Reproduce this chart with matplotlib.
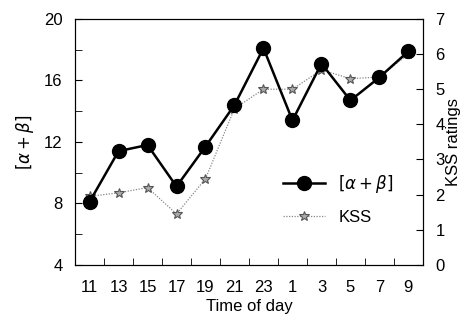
import numpy as np
import matplotlib.pyplot as plt
from matplotlib.ticker import MultipleLocator

# data
hours = ['11', '13', '15', '17', '19', '21', '23', '1', '3', '5', '7', '9']
alpha_beta = [8.1, 11.4, 11.8, 9.1, 11.7, 14.4, 18.1, 13.4, 17.1, 14.7, 16.2, 17.9]
kss = [1.95, 2.05, 2.2, 1.45, 2.45, 4.45, 5.0, 5.0, 5.55, 5.3, 5.35, 6.0]

plt.rcParams['font.family'] = ['Liberation Sans', 'DejaVu Sans']
plt.rcParams['font.size'] = 12

x = np.arange(len(hours))

fig = plt.figure(figsize=(4.72, 3.27), dpi=100)
ax = fig.add_axes([0.159, 0.19, 0.737, 0.752])
ax2 = ax.twinx()

l1, = ax.plot(x, alpha_beta, color='black', lw=1.8, marker='o', ms=10,
              label=r'$[\alpha+\beta]$', zorder=3)
l2, = ax2.plot(x, kss, color='#888888', lw=0.9, ls=(0, (1, 1.2)), marker='*', ms=7,
               mfc='#aaaaaa', mec='#555555', mew=0.8, label='KSS', zorder=2)
ax.set_zorder(ax2.get_zorder() + 1)
ax.patch.set_visible(False)

ax.set_xlim(-0.5, 11.5)
ax.set_ylim(4, 20)
ax2.set_ylim(0, 7)

ax.set_xticks(x)
ax.set_xticklabels(hours)
ax.xaxis.set_minor_locator(MultipleLocator(1, offset=0.5))
ax.tick_params(axis='x', which='major', length=0, pad=11)
ax.tick_params(axis='x', which='minor', direction='in', length=5)

ax.set_yticks([4, 8, 12, 16, 20])
ax.yaxis.set_minor_locator(MultipleLocator(2))
ax.tick_params(axis='y', which='both', direction='in', length=5, pad=9)
ax2.set_yticks(range(0, 8))
ax2.tick_params(axis='y', direction='in', length=5, pad=9)

ax.set_xlabel('Time of day', labelpad=3)
ax.set_ylabel(r'$[\alpha+\beta]$', labelpad=6)
ax2.set_ylabel('KSS ratings', labelpad=1)

ax.legend([l1, l2], [r'$[\alpha+\beta]$', 'KSS'], loc='lower right',
          bbox_to_anchor=(0.96, 0.1), frameon=False, handlelength=2.5,
          fontsize=12, labelspacing=0.9)

fig.savefig('out.png', dpi=100)
